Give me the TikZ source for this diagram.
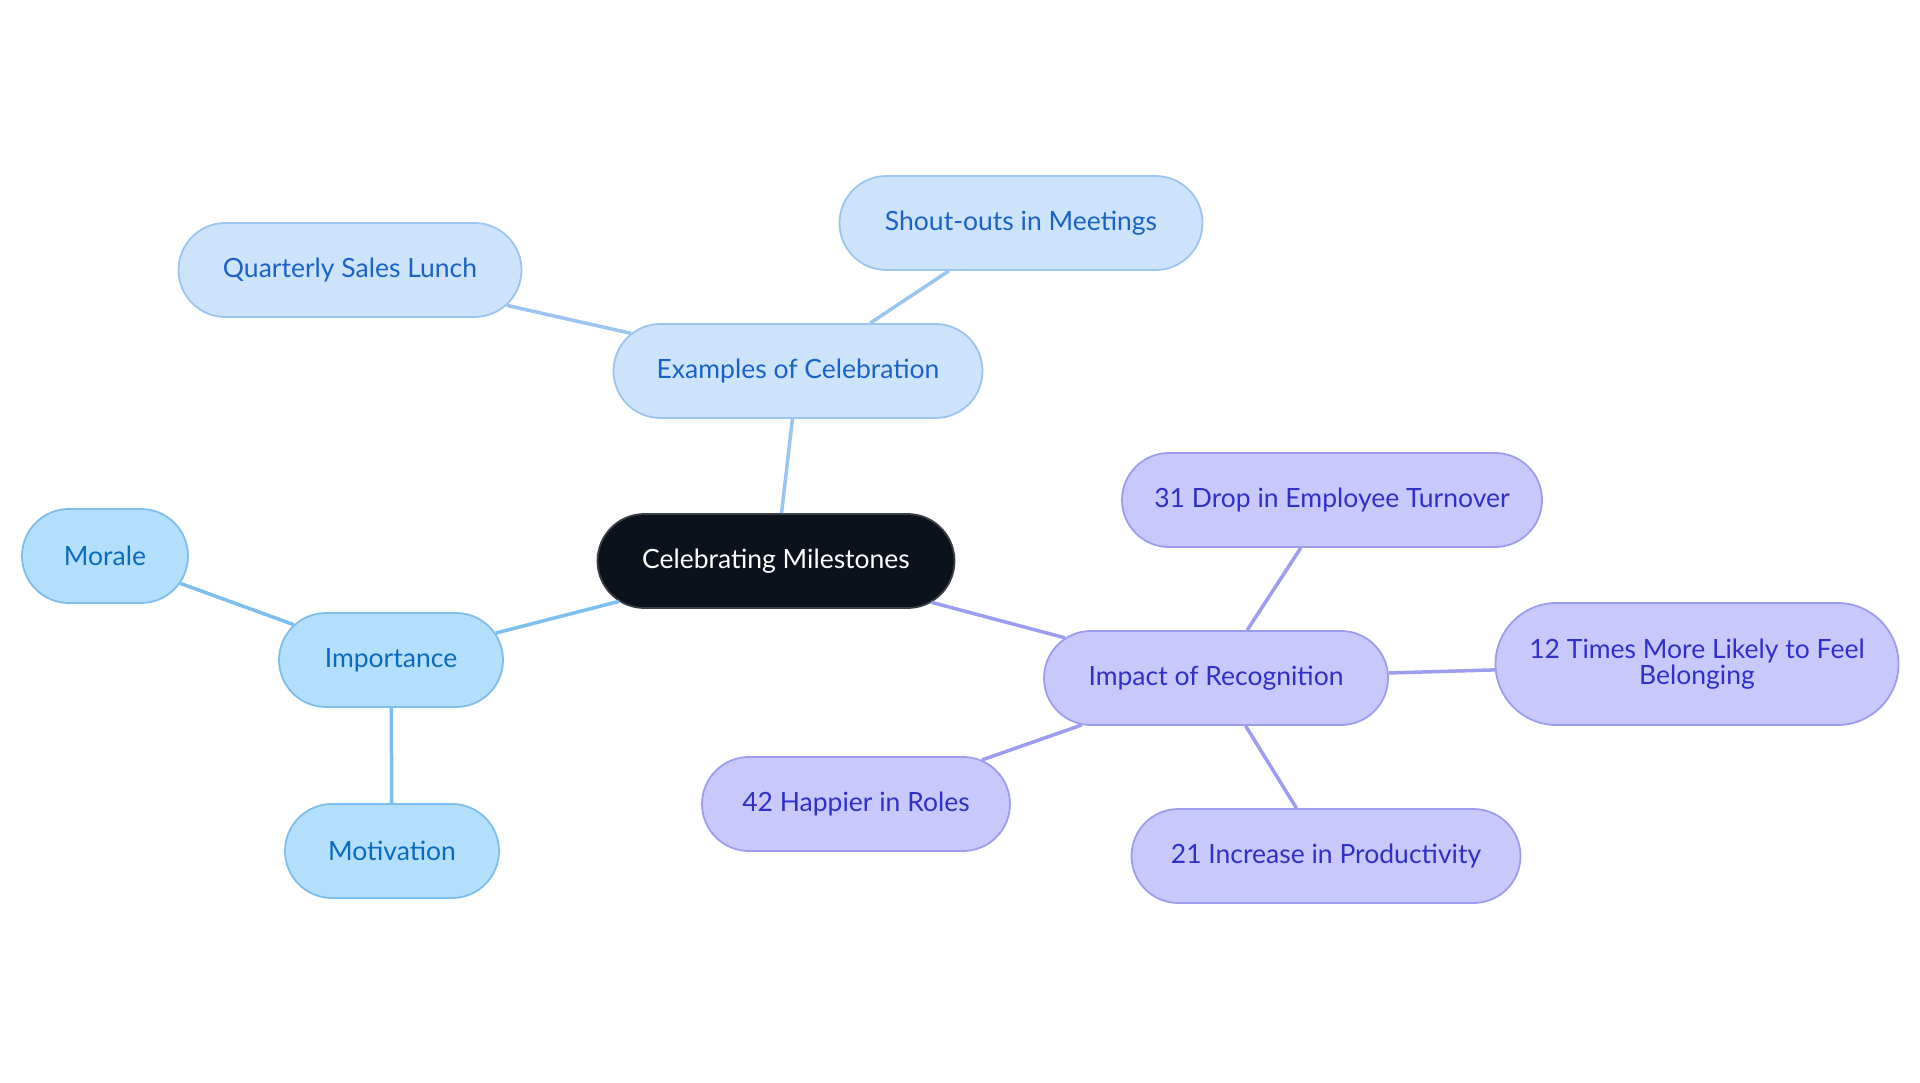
\documentclass[tikz,border=0pt]{standalone}
\usepackage{fontspec}
\setmainfont{Lato}
\usetikzlibrary{shapes.misc}
\definecolor{rootfill}{HTML}{0C121C}
\definecolor{rootdraw}{HTML}{3A3F47}
\definecolor{exfill}{HTML}{CCE3FB}
\definecolor{exdraw}{HTML}{9CC4F0}
\definecolor{extext}{HTML}{1A62C6}
\definecolor{imfill}{HTML}{B4DFFC}
\definecolor{imdraw}{HTML}{7CBFEF}
\definecolor{imtext}{HTML}{0A6AC0}
\definecolor{rcfill}{HTML}{C8C8FC}
\definecolor{rcdraw}{HTML}{9C9CF0}
\definecolor{rctext}{HTML}{3030C8}
\begin{document}
\begin{tikzpicture}[x=1pt,y=-1pt,
  box/.style={rounded rectangle, rounded rectangle arc length=180, minimum height=94pt, inner sep=0pt, line width=1.8pt, font=\fontsize{26.5}{29}\selectfont, align=center},
  root/.style={box, fill=rootfill, draw=rootdraw, text=white},
  exbox/.style={box, fill=exfill, draw=exdraw, text=extext},
  imbox/.style={box, fill=imfill, draw=imdraw, text=imtext},
  rcbox/.style={box, fill=rcfill, draw=rcdraw, text=rctext},
  exedge/.style={draw=exdraw, line width=3.5pt},
  imedge/.style={draw=imdraw, line width=3.5pt},
  rcedge/.style={draw=rcdraw, line width=3.5pt}]
\useasboundingbox (0,0) rectangle (1920,1083);
\fill[white] (0,0) rectangle (1920,1083);
\node[root, minimum width=357pt] (c) at (776,561) {Celebrating Milestones};
\node[exbox, minimum width=369pt] (ex) at (798,371) {Examples of Celebration};
\node[exbox, minimum width=343pt] (q) at (350,270) {Quarterly Sales Lunch};
\node[exbox, minimum width=363pt] (s) at (1021,223) {Shout-outs in Meetings};
\node[imbox, minimum width=224pt] (im) at (391,660) {Importance};
\node[imbox, minimum width=166pt] (mo) at (105,556) {Morale};
\node[imbox, minimum width=214pt] (mv) at (392,851) {Motivation};
\node[rcbox, minimum width=344pt] (rc) at (1216,678) {Impact of Recognition};
\node[rcbox, minimum width=420pt] (d31) at (1332,500) {31 Drop in Employee Turnover};
\node[rcbox, minimum width=403pt, minimum height=122pt] (t12) at (1697,664) {12 Times More Likely to Feel\\[-3pt]Belonging};
\node[rcbox, minimum width=308pt] (h42) at (856,804) {42 Happier in Roles};
\node[rcbox, minimum width=389pt] (i21) at (1326,856) {21 Increase in Productivity};
\path[exedge] (c) -- (ex);
\path[exedge] (ex) -- (q);
\path[exedge] (ex) -- (s);
\path[imedge] (c) -- (im);
\path[imedge] (im) -- (mo);
\path[imedge] (im) -- (mv);
\path[rcedge] (c) -- (rc);
\path[rcedge] (rc) -- (d31);
\path[rcedge] (rc) -- (t12);
\path[rcedge] (rc) -- (h42);
\path[rcedge] (rc) -- (i21);
\end{tikzpicture}
\end{document}
